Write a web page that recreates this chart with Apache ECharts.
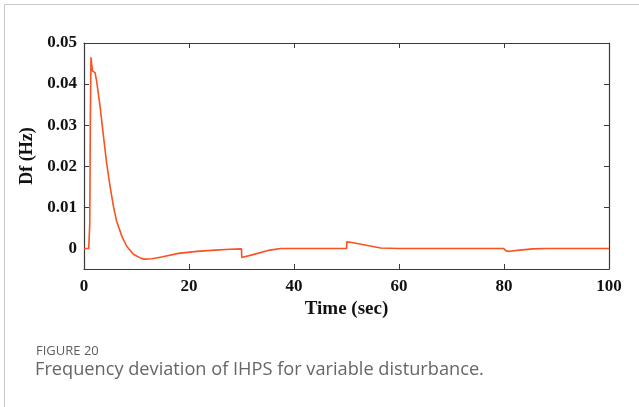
<!DOCTYPE html>
<html><head><meta charset="utf-8">
<script src="https://cdn.jsdelivr.net/npm/echarts@6/dist/echarts.min.js"></script>
<style>html,body{margin:0;padding:0;background:#fff}#c{width:639px;height:407px}</style>
</head><body><div id="c"></div>
<script>
// Time (sec)
const timeSec = [0,0.9,1.0,1.1,1.2,1.33,1.6,2.1,2.4,3.05,3.7,4.3,4.95,5.6,6.2,7.2,8.1,9.4,10.7,11.5,13,15,18,21.5,25,27.8,30,30.05,32.2,35.4,37.5,50,50.05,51.3,54.5,56.5,60,79.9,80.4,81.1,83,85.5,88,100];
// Df (Hz)
const dfHz = [0,0,0.0004,0.006,0.03,0.0465,0.0432,0.0428,0.0408,0.0347,0.0274,0.0209,0.0152,0.0103,0.0067,0.003,0.0006,-0.0014,-0.0023,-0.0026,-0.0025,-0.002,-0.0012,-0.0007,-0.0004,-0.0002,-0.0001,-0.0022,-0.0015,-0.0004,0,0,0.0016,0.0014,0.0006,0.0001,0,0,-0.0006,-0.0007,-0.0004,-0.0001,0,0];
const xTicks = [0,20,40,60,80,100];
const yTicks = [0,0.01,0.02,0.03,0.04,0.05];

const chart = echarts.init(document.getElementById('c'));
const axisCol = '#3a3a3a';
const serif = '"Liberation Serif","Times New Roman",serif';
const tickFont = {fontFamily:serif,fontWeight:'bold',fontSize:17,color:'#111'};
chart.setOption({
  animation:false,
  grid:{left:84,right:30,top:43,bottom:138},
  xAxis:[{
    type:'value',min:0,max:100,interval:20,
    name:'Time (sec)',nameLocation:'middle',nameGap:23,
    nameTextStyle:{fontFamily:serif,fontWeight:'bold',fontSize:19,color:'#111'},
    axisLine:{onZero:false,lineStyle:{color:axisCol,width:1.2}},
    axisTick:{inside:true,length:5,lineStyle:{color:axisCol}},
    axisLabel:Object.assign({margin:9},tickFont),
    splitLine:{show:false}
  },{
    type:'value',position:'top',min:0,max:100,interval:20,
    axisLine:{show:true,onZero:false,lineStyle:{color:axisCol,width:1.2}},
    axisTick:{inside:true,length:5,lineStyle:{color:axisCol}},
    axisLabel:{show:false},splitLine:{show:false}
  }],
  yAxis:[{
    type:'value',min:-0.005,max:0.05,
    name:'Df (Hz)',nameLocation:'middle',nameGap:40,nameRotate:90,
    nameTextStyle:{fontFamily:serif,fontWeight:'bold',fontSize:18,color:'#111'},
    axisLine:{show:true,onZero:false,lineStyle:{color:axisCol,width:1.2}},
    axisTick:{show:true,inside:true,length:5,customValues:yTicks,lineStyle:{color:axisCol}},
    axisLabel:Object.assign({customValues:yTicks,margin:7,formatter:v=>Math.abs(v)<1e-9?'0':v.toFixed(2)},tickFont),
    splitLine:{show:false}
  },{
    type:'value',position:'right',min:-0.005,max:0.05,
    axisLine:{show:true,onZero:false,lineStyle:{color:axisCol,width:1.2}},
    axisTick:{show:true,inside:true,length:5,customValues:yTicks,lineStyle:{color:axisCol}},
    axisLabel:{show:false},splitLine:{show:false}
  }],
  series:[{
    type:'line',xAxisIndex:0,yAxisIndex:0,showSymbol:false,smooth:false,
    data:timeSec.map((t,i)=>[t,dfHz[i]]),
    lineStyle:{color:'#fa5220',width:1.6}
  }],
  graphic:[
    {type:'line',shape:{x1:4.5,y1:4.5,x2:639,y2:4.5},style:{stroke:'#c8c8c8',lineWidth:1}},
    {type:'line',shape:{x1:4.5,y1:4.5,x2:4.5,y2:407},style:{stroke:'#c8c8c8',lineWidth:1}},
    {type:'text',left:36,top:345,style:{text:'FIGURE 20',fontFamily:'"Open Sans",sans-serif',fontSize:13,fill:'#5e5e5e'}},
    {type:'text',left:35,top:361,style:{text:'Frequency deviation of IHPS for variable disturbance.',fontFamily:'"Open Sans",sans-serif',fontSize:18.2,fill:'#666'}}
  ]
});
</script></body></html>
